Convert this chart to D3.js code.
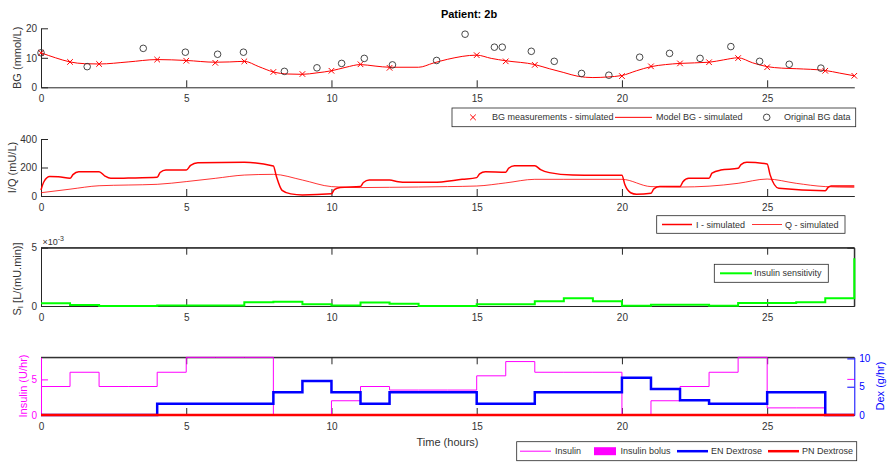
<!DOCTYPE html>
<html>
<head>
<meta charset="utf-8">
<script src="https://cdn.jsdelivr.net/npm/d3@7/dist/d3.min.js"></script>
<style>
  body { margin: 0; background: #ffffff; }
  svg { font-family: "Liberation Sans", Arial, Helvetica, sans-serif; }
</style>
</head>
<body>
<svg id="chart" width="888" height="464"></svg>
<script>
// ---------- data ----------
const titleText = "Patient: 2b";
const xTicks = [0, 5, 10, 15, 20, 25];

// Panel 1: blood glucose (mmol/L)
const bgMeasTime  = [0, 1, 2, 4, 5, 6, 7, 8, 9, 10, 11, 12, 15, 16, 17, 20, 21, 22, 23, 24, 25, 27, 28];
const bgMeasValue = [11.7, 8.6, 7.9, 9.4, 9.0, 8.3, 8.8, 5.2, 4.5, 5.6, 7.8, 6.6, 10.9, 8.8, 7.6, 3.8, 7.1, 8.1, 8.5, 9.9, 6.8, 5.6, 3.9];
const modelTime  = [0, 0.5, 1, 1.5, 2, 3, 4, 5, 6, 6.5, 7, 7.5, 8, 8.5, 9, 9.5, 10, 10.5, 11, 11.5, 12, 13, 13.5, 14, 15, 15.5, 16, 17, 17.5, 18, 18.5, 19, 19.5, 20, 20.5, 21, 21.5, 22, 23, 23.5, 24, 24.5, 25, 25.5, 26, 27, 27.5, 28];
const modelBG    = [11.7, 10.0, 8.6, 8.0, 7.9, 8.6, 9.4, 9.1, 8.5, 8.6, 8.8, 7.0, 5.2, 4.5, 4.4, 4.9, 5.6, 6.8, 7.7, 7.2, 6.8, 6.8, 8.2, 9.5, 10.9, 9.8, 9.0, 7.7, 6.3, 5.0, 3.7, 3.3, 3.5, 4.0, 5.6, 7.0, 7.7, 8.1, 8.5, 9.3, 10.0, 8.3, 7.0, 6.5, 6.3, 5.7, 4.8, 3.9];
const origBGTime  = [0, 1.59, 3.52, 4.97, 6.08, 6.97, 8.38, 9.5, 10.35, 11.13, 12.1, 13.62, 14.6, 15.61, 15.88, 16.88, 17.67, 18.61, 19.55, 20.61, 21.64, 22.69, 23.75, 24.74, 25.76, 26.85];
const origBGValue = [11.7, 7.0, 13.2, 11.9, 11.2, 11.9, 5.4, 6.6, 8.1, 9.8, 7.6, 9.1, 18.0, 13.6, 13.6, 12.2, 8.8, 4.7, 4.1, 10.2, 11.5, 9.8, 13.8, 8.8, 7.8, 6.5];
const bgLegend = ["BG measurements - simulated", "Model BG - simulated", "Original BG data"];

// Panel 2: plasma insulin I and interstitial insulin Q (mU/L)
const iTime  = [0, 0.1, 0.3, 0.6, 1.0, 1.1, 1.3, 2.0, 2.2, 2.4, 3, 4, 4.1, 4.3, 5, 5.15, 5.4, 7, 8, 8.1, 8.3, 8.6, 9, 10, 10.1, 10.3, 11, 11.1, 11.3, 12, 12.3, 12.6, 13.5, 14.5, 15, 15.1, 15.3, 16, 16.1, 16.3, 17, 17.2, 17.5, 18.3, 20, 20.1, 20.3, 20.5, 21, 21.1, 21.3, 22, 22.1, 22.3, 23, 23.1, 23.4, 24, 24.1, 24.3, 25, 25.1, 25.4, 27, 27.1, 27.2, 28];
const iValue = [42, 100, 136, 135, 124, 150, 171, 171, 140, 124, 126, 131, 165, 182, 182, 215, 234, 236, 211, 140, 40, 15, 7, 15, 45, 59, 66, 95, 112, 112, 100, 96, 96, 117, 129, 155, 171, 167, 195, 213, 213, 185, 164, 147, 145, 80, 23, 12, 19, 50, 66, 66, 100, 124, 124, 160, 182, 194, 220, 236, 225, 150, 54, 37, 60, 70, 70];
const qTime  = [0, 1, 2, 3, 4, 5, 6, 7, 8, 9, 10, 11, 12, 13, 14, 15, 16, 17, 18, 20, 21, 22, 23, 24, 25, 26, 27, 28];
const qValue = [23, 48, 72, 77, 82, 101, 124, 147, 152, 112, 66, 59, 61, 63, 66, 70, 92, 117, 117, 117, 66, 63, 69, 89, 119, 89, 66, 61];
const iqLegend = ["I - simulated", "Q - simulated"];

// Panel 3: insulin sensitivity, hourly steps (L/(mU.min))
const stepHours = [0, 1, 2, 3, 4, 5, 6, 7, 8, 9, 10, 11, 12, 13, 14, 15, 16, 17, 18, 19, 20, 21, 22, 23, 24, 25, 26, 27, 28];
const siValue = [0.23e-3, 0.09e-3, 0, 0, 0.04e-3, 0.04e-3, 0.04e-3, 0.32e-3, 0.37e-3, 0.15e-3, 0.05e-3, 0.30e-3, 0.20e-3, 0, 0, 0.14e-3, 0.14e-3, 0.40e-3, 0.66e-3, 0.40e-3, 0.03e-3, 0.10e-3, 0.10e-3, 0.03e-3, 0.26e-3, 0.26e-3, 0.32e-3, 0.66e-3, 4.09e-3];
const siLegend = ["Insulin sensitivity"];

// Panel 4: insulin infusion (U/hr, left) and dextrose (g/hr, right), hourly steps
const insulinRate = [4, 6, 4, 4, 6, 8.1, 8.1, 8.1, 0, 0, 2, 4, 3.5, 3.5, 3.5, 5.5, 7.5, 6, 6, 6, 0, 2, 4, 6, 8.1, 1, 1, 0, 0];
const insulinBolus = [];
const enDextrose  = [0, 0, 0, 0, 2, 2, 2, 2, 4, 6, 4, 2, 4, 4, 4, 2, 2, 4, 4, 4, 6.6, 4.6, 2.6, 2, 2, 4, 4, 0, 0];
const pnDextrose  = [0, 0, 0, 0, 0, 0, 0, 0, 0, 0, 0, 0, 0, 0, 0, 0, 0, 0, 0, 0, 0, 0, 0, 0, 0, 0, 0, 0, 0];
const inputLegend = ["Insulin", "Insulin bolus", "EN Dextrose", "PN Dextrose"];

// ---------- layout ----------
const svg = d3.select("#chart");
const AX = "#262626";
const TXT = "#333333";
const RED = "#ff0000", GREEN = "#00ff00", BLUE = "#0000ff", MAGENTA = "#ff00ff";
const TICK = 7;

const x = d3.scaleLinear().domain([0, 28]).range([41, 854.3]);
const left = x.range()[0], right = x.range()[1];

function styleAxis(g, color, textColor) {
  g.select(".domain").attr("stroke", color).attr("stroke-width", 1);
  g.selectAll(".tick line").attr("stroke", color).attr("stroke-width", 1);
  g.selectAll(".tick text").attr("fill", textColor || color).attr("font-size", 10)
    .attr("font-family", "Liberation Sans, Arial, sans-serif");
  return g;
}

function bottomAxis(yPos) {
  const g = svg.append("g").attr("transform", `translate(0,${yPos})`)
    .call(d3.axisBottom(x).tickValues(xTicks).tickFormat(d3.format("d")).tickSize(-TICK).tickSizeOuter(0).tickPadding(8));
  styleAxis(g, AX, TXT);
  return g;
}
function topTicks(yPos) {
  const g = svg.append("g").attr("transform", `translate(0,${yPos})`)
    .call(d3.axisTop(x).tickValues(xTicks).tickFormat("").tickSize(-TICK).tickSizeOuter(0));
  styleAxis(g, AX);
  return g;
}
function leftAxis(y, ticks, fmt, color) {
  const g = svg.append("g").attr("transform", `translate(${left},0)`)
    .call(d3.axisLeft(y).tickValues(ticks).tickFormat(fmt).tickSize(-TICK).tickSizeOuter(0).tickPadding(4));
  styleAxis(g, color || AX, color || TXT);
  return g;
}
function rightTicks(y, ticks, color) {
  const g = svg.append("g").attr("transform", `translate(${right},0)`)
    .call(d3.axisRight(y).tickValues(ticks).tickFormat("").tickSize(-TICK).tickSizeOuter(0));
  styleAxis(g, color || AX);
  return g;
}
function yLabel(cx, cy, text, color) {
  return svg.append("text")
    .attr("transform", `translate(${cx},${cy}) rotate(-90)`)
    .attr("text-anchor", "middle").attr("dominant-baseline", "central")
    .attr("font-size", 11).attr("fill", color || TXT).text(text);
}

// legend box helper: each item draws its sample between s0 and s1, label at tx
function legendBox(x0, y0, x1, y1, items) {
  const g = svg.append("g");
  g.append("rect").attr("x", x0).attr("y", y0).attr("width", x1 - x0).attr("height", y1 - y0)
    .attr("fill", "#ffffff").attr("stroke", AX).attr("stroke-width", 0.8);
  const cy = (y0 + y1) / 2;
  items.forEach(it => {
    it.draw(g, it.s0, it.s1, cy);
    g.append("text").attr("x", it.tx).attr("y", cy).attr("dominant-baseline", "central")
      .attr("font-size", 9).attr("fill", TXT).text(it.label);
  });
}
function crossPath(s) { return `M${-s},${-s}L${s},${s}M${-s},${s}L${s},${-s}`; }

// ---------- title ----------
svg.append("text").attr("x", 469).attr("y", 14).attr("text-anchor", "middle")
  .attr("dominant-baseline", "central").attr("font-size", 11).attr("font-weight", "bold")
  .attr("fill", "#000").text(titleText);

// ---------- panel 1: BG ----------
const y1 = d3.scaleLinear().domain([0, 20]).range([87.3, 28.3]);
bottomAxis(87.3);
leftAxis(y1, [0, 10, 20], d3.format("d"));
yLabel(16.5, 57.8, "BG (mmol/L)");

const bgLine = d3.line().x(d => x(d[0])).y(d => y1(d[1])).curve(d3.curveMonotoneX);
svg.append("path").datum(d3.zip(modelTime, modelBG)).attr("d", bgLine)
  .attr("fill", "none").attr("stroke", RED).attr("stroke-width", 1);
svg.append("g").selectAll("path").data(d3.zip(bgMeasTime, bgMeasValue)).join("path")
  .attr("transform", d => `translate(${x(d[0])},${y1(d[1])})`)
  .attr("d", crossPath(2.8)).attr("stroke", RED).attr("stroke-width", 1).attr("fill", "none");
svg.append("g").selectAll("circle").data(d3.zip(origBGTime, origBGValue)).join("circle")
  .attr("cx", d => x(d[0])).attr("cy", d => y1(d[1])).attr("r", 3.3)
  .attr("fill", "none").attr("stroke", "#333333").attr("stroke-width", 0.9);

legendBox(452, 108, 855.7, 126.7, [
  { label: bgLegend[0], s0: 473, s1: 473, tx: 492,
    draw: (g, a, b, cy) => g.append("path").attr("transform", `translate(${a},${cy})`).attr("d", crossPath(2.8)).attr("stroke", RED).attr("fill", "none") },
  { label: bgLegend[1], s0: 615, s1: 652, tx: 656,
    draw: (g, a, b, cy) => g.append("line").attr("x1", a).attr("x2", b).attr("y1", cy).attr("y2", cy).attr("stroke", RED).attr("stroke-width", 1) },
  { label: bgLegend[2], s0: 766.7, s1: 766.7, tx: 784,
    draw: (g, a, b, cy) => g.append("circle").attr("cx", a).attr("cy", cy).attr("r", 3.3).attr("fill", "none").attr("stroke", "#333333").attr("stroke-width", 0.9) }
]);

// ---------- panel 2: I / Q ----------
const y2 = d3.scaleLinear().domain([0, 400]).range([196, 139]);
bottomAxis(196);
leftAxis(y2, [0, 200, 400], d3.format("d"));
yLabel(11.5, 167.5, "I/Q (mU/L)");

const iqLine = d3.line().x(d => x(d[0])).y(d => y2(d[1])).curve(d3.curveMonotoneX);
svg.append("path").datum(d3.zip(qTime, qValue)).attr("d", iqLine)
  .attr("fill", "none").attr("stroke", RED).attr("stroke-width", 0.8);
svg.append("path").datum(d3.zip(iTime, iValue)).attr("d", iqLine)
  .attr("fill", "none").attr("stroke", RED).attr("stroke-width", 1.5);

legendBox(656.7, 215.7, 845, 233.3, [
  { label: iqLegend[0], s0: 662, s1: 692, tx: 696,
    draw: (g, a, b, cy) => g.append("line").attr("x1", a).attr("x2", b).attr("y1", cy).attr("y2", cy).attr("stroke", RED).attr("stroke-width", 1.5) },
  { label: iqLegend[1], s0: 752, s1: 782, tx: 785,
    draw: (g, a, b, cy) => g.append("line").attr("x1", a).attr("x2", b).attr("y1", cy).attr("y2", cy).attr("stroke", RED).attr("stroke-width", 0.8) }
]);

// ---------- panel 3: insulin sensitivity ----------
const y3 = d3.scaleLinear().domain([0, 5e-3]).range([306, 247.7]);
svg.append("line").attr("x1", left).attr("x2", right).attr("y1", 247.7).attr("y2", 247.7).attr("stroke", AX);
svg.append("line").attr("x1", right).attr("x2", right).attr("y1", 247.7).attr("y2", 306).attr("stroke", AX);
topTicks(247.7);
rightTicks(y3, [0, 5e-3]);
bottomAxis(306);
leftAxis(y3, [0, 5e-3], d => d3.format("d")(d * 1000));
svg.append("text").attr("x", 42.5).attr("y", 244.5).attr("font-size", 9).attr("fill", TXT)
  .text("\u00d710").append("tspan").attr("dy", -4).attr("font-size", 7).text("-3");
const siLab = svg.append("text")
  .attr("transform", "translate(16.5,279) rotate(-90)")
  .attr("text-anchor", "middle").attr("dominant-baseline", "central")
  .attr("font-size", 11).attr("fill", TXT);
siLab.append("tspan").text("S");
siLab.append("tspan").attr("font-size", 8).attr("dy", 3).text("I");
siLab.append("tspan").attr("dy", -3).text(" [L/(mU.min)]");

const stepLine3 = d3.line().x(d => x(d[0])).y(d => y3(d[1])).curve(d3.curveStepAfter);
svg.append("path").datum(d3.zip(stepHours, siValue)).attr("d", stepLine3)
  .attr("fill", "none").attr("stroke", GREEN).attr("stroke-width", 2);

legendBox(714.3, 264.3, 828.3, 282.3, [
  { label: siLegend[0], s0: 720, s1: 752, tx: 754,
    draw: (g, a, b, cy) => g.append("line").attr("x1", a).attr("x2", b).attr("y1", cy).attr("y2", cy).attr("stroke", GREEN).attr("stroke-width", 2) }
]);

// ---------- panel 4: inputs ----------
const y4L = d3.scaleLinear().domain([0, 8.1]).range([415, 357.3]);
const y4R = d3.scaleLinear().domain([0, 10.2]).range([415, 357.3]);
svg.append("line").attr("x1", left).attr("x2", right).attr("y1", 357.3).attr("y2", 357.3).attr("stroke", AX);
topTicks(357.3);
bottomAxis(415);
// left axis: insulin (magenta)
leftAxis(y4L, [0, 5], d3.format("d"), MAGENTA);
svg.append("line").attr("x1", right - TICK).attr("x2", right).attr("y1", y4L(5)).attr("y2", y4L(5))
  .attr("stroke", MAGENTA);
// right axis: dextrose (blue)
const rAx = svg.append("g").attr("transform", `translate(${right},0)`)
  .call(d3.axisRight(y4R).tickValues([0, 5, 10]).tickFormat(d3.format("d")).tickSize(-TICK).tickSizeOuter(0).tickPadding(5));
styleAxis(rAx, BLUE);
yLabel(22.5, 386, "Insulin (U/hr)", MAGENTA);
yLabel(880, 386, "Dex (g/hr)", BLUE);
svg.append("text").attr("x", 447.5).attr("y", 441.5).attr("text-anchor", "middle")
  .attr("dominant-baseline", "central").attr("font-size", 11).attr("fill", TXT).text("Time (hours)");

const stepL = d3.line().x(d => x(d[0])).y(d => y4L(d[1])).curve(d3.curveStepAfter);
const stepR = d3.line().x(d => x(d[0])).y(d => y4R(d[1])).curve(d3.curveStepAfter);
svg.append("path").datum(d3.zip(stepHours, insulinRate)).attr("d", stepL)
  .attr("fill", "none").attr("stroke", MAGENTA).attr("stroke-width", 1);
svg.append("g").selectAll("rect").data(insulinBolus).join("rect")
  .attr("x", d => x(d[0]) - 1).attr("width", 2).attr("y", d => y4L(d[1])).attr("height", d => y4L(0) - y4L(d[1]))
  .attr("fill", MAGENTA);
svg.append("path").datum(d3.zip(stepHours, enDextrose)).attr("d", stepR)
  .attr("fill", "none").attr("stroke", BLUE).attr("stroke-width", 2.5);
svg.append("path").datum(d3.zip(stepHours, pnDextrose)).attr("d", stepR)
  .attr("fill", "none").attr("stroke", RED).attr("stroke-width", 2.5);

legendBox(516.7, 441.7, 856.7, 460.7, [
  { label: inputLegend[0], s0: 520, s1: 551, tx: 555,
    draw: (g, a, b, cy) => g.append("line").attr("x1", a).attr("x2", b).attr("y1", cy).attr("y2", cy).attr("stroke", MAGENTA).attr("stroke-width", 1) },
  { label: inputLegend[1], s0: 594, s1: 616, tx: 620.5,
    draw: (g, a, b, cy) => g.append("rect").attr("x", a).attr("y", cy - 4).attr("width", b - a).attr("height", 8).attr("fill", MAGENTA) },
  { label: inputLegend[2], s0: 677, s1: 708, tx: 711,
    draw: (g, a, b, cy) => g.append("line").attr("x1", a).attr("x2", b).attr("y1", cy).attr("y2", cy).attr("stroke", BLUE).attr("stroke-width", 2.5) },
  { label: inputLegend[3], s0: 768, s1: 799, tx: 802,
    draw: (g, a, b, cy) => g.append("line").attr("x1", a).attr("x2", b).attr("y1", cy).attr("y2", cy).attr("stroke", RED).attr("stroke-width", 2.5) }
]);
</script>
</body>
</html>
